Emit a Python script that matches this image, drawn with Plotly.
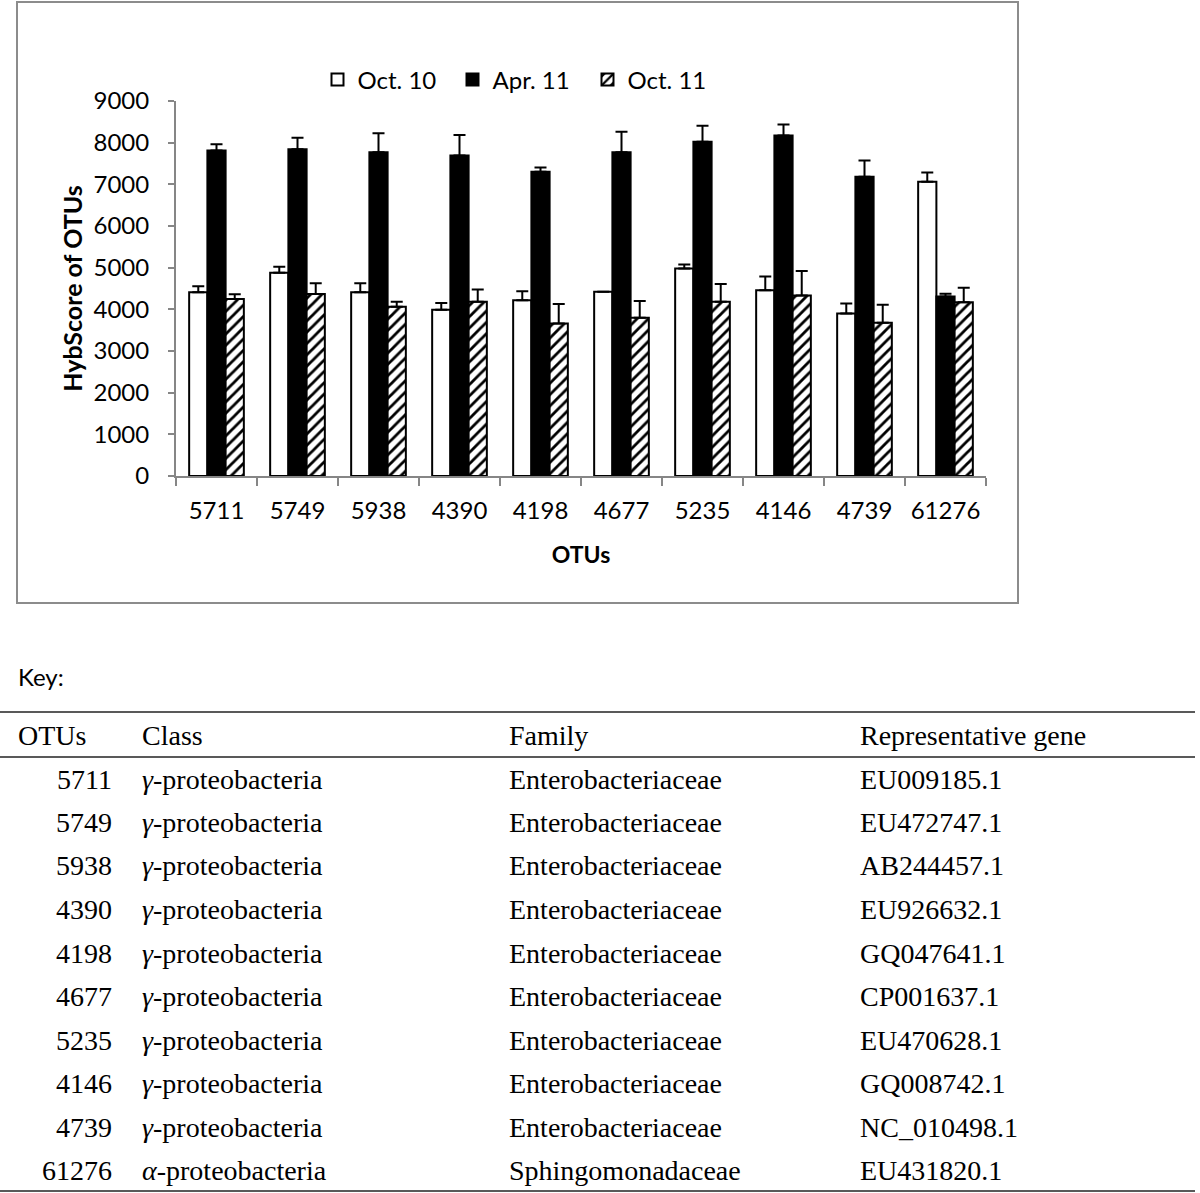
import plotly.graph_objects as go

# ---------------- data ----------------
categories = ["5711", "5749", "5938", "4390", "4198", "4677", "5235", "4146", "4739", "61276"]
series_names = ["Oct. 10", "Apr. 11", "Oct. 11"]
oct10 = [4410, 4880, 4410, 3990, 4220, 4420, 4980, 4460, 3900, 7060]
oct10_err = [145, 145, 215, 160, 215, 0, 95, 330, 240, 225]
apr11 = [7810, 7840, 7770, 7690, 7300, 7770, 8020, 8170, 7180, 4310]
apr11_err = [150, 280, 455, 495, 105, 495, 385, 265, 390, 65]
oct11 = [4250, 4370, 4060, 4180, 3660, 3800, 4180, 4330, 3680, 4170]
oct11_err = [110, 255, 120, 295, 470, 400, 425, 590, 430, 345]
y_ticks = [0, 1000, 2000, 3000, 4000, 5000, 6000, 7000, 8000, 9000]

table_header = ["OTUs", "Class", "Family", "Representative gene"]
table_otus = ["5711", "5749", "5938", "4390", "4198", "4677", "5235", "4146", "4739", "61276"]
table_class = ["<i>γ</i>-proteobacteria"] * 9 + ["<i>α</i>-proteobacteria"]
table_family = ["Enterobacteriaceae"] * 9 + ["Sphingomonadaceae"]
table_gene = ["EU009185.1", "EU472747.1", "AB244457.1", "EU926632.1", "GQ047641.1",
              "CP001637.1", "EU470628.1", "GQ008742.1", "NC_010498.1", "EU431820.1"]

# ---------------- layout helpers ----------------
W, H = 1200, 1193


def px(x):
    return x / W


def py(y):
    return 1 - y / H


SANS = "Lato"
SERIF = "Liberation Serif"
AXIS_GRAY = "#868686"

fig = go.Figure()

err_style = dict(type="data", symmetric=False, color="black", thickness=2, width=6)

fig.add_trace(go.Bar(
    name=series_names[0], x=categories, y=oct10,
    marker=dict(color="white", line=dict(color="black", width=2)),
    error_y=dict(array=oct10_err, arrayminus=[0] * len(oct10), **err_style),
))
fig.add_trace(go.Bar(
    name=series_names[1], x=categories, y=apr11,
    marker=dict(color="black", line=dict(color="black", width=2)),
    error_y=dict(array=apr11_err, arrayminus=[0] * len(apr11), **err_style),
))
fig.add_trace(go.Bar(
    name=series_names[2], x=categories, y=oct11,
    marker=dict(color="white", line=dict(color="black", width=2),
                pattern=dict(shape="/", fgcolor="black", bgcolor="white",
                             size=8, solidity=0.35)),
    error_y=dict(array=oct11_err, arrayminus=[0] * len(oct11), **err_style),
))

fig.update_layout(
    template="none",
    width=W, height=H,
    autosize=False,
    margin=dict(l=0, r=0, t=0, b=0, pad=0),
    paper_bgcolor="white", plot_bgcolor="white",
    font=dict(family=SANS, size=24, color="black"),
    barmode="group", bargap=0.325, bargroupgap=0,
    showlegend=True,
    legend=dict(orientation="h", x=px(520), xanchor="center", y=py(80), yanchor="middle",
                font=dict(family=SANS, size=24, color="black"),
                bgcolor="rgba(0,0,0,0)", borderwidth=0, entrywidth=90, entrywidthmode="pixels",
                itemclick=False, traceorder="normal"),
    xaxis=dict(domain=[px(176), px(986)], type="category", automargin=False,
               showline=True, linecolor=AXIS_GRAY, linewidth=2,
               ticks="outside", tickson="boundaries", ticklen=8, tickcolor=AXIS_GRAY, tickwidth=2,
               ticklabelstandoff=12,
               tickfont=dict(family=SANS, size=24, color="black"),
               showgrid=False, zeroline=False,
               title=dict(text="<b>OTUs</b>", font=dict(family=SANS, size=23, color="black"),
                          standoff=24)),
    yaxis=dict(domain=[py(476), py(101)], range=[0, 9000], tickvals=y_ticks, automargin=False,
               showline=True, linecolor=AXIS_GRAY, linewidth=2,
               ticks="outside", ticklen=6, tickcolor=AXIS_GRAY, tickwidth=2,
               ticklabelstandoff=14,
               tickfont=dict(family=SANS, size=24, color="black"),
               showgrid=False, zeroline=False,
               title=dict(text="<b>HybScore of OTUs</b>", font=dict(family=SANS, size=25, color="black"),
                          standoff=4)),
)

shapes = []
# outer chart frame
shapes.append(dict(type="rect", xref="paper", yref="paper",
                   x0=px(17), x1=px(1018), y0=py(603), y1=py(2),
                   line=dict(color="#8c8c8c", width=2), fillcolor="rgba(0,0,0,0)", layer="below"))
# table rules
for yline in (712, 757, 1191):
    shapes.append(dict(type="line", xref="paper", yref="paper",
                       x0=px(0), x1=px(1195), y0=py(yline), y1=py(yline),
                       line=dict(color="#222222", width=1.5)))

annotations = []
annotations.append(dict(text="Key:", xref="paper", yref="paper", x=px(16), y=py(677),
                        xanchor="left", yanchor="middle", showarrow=False,
                        font=dict(family=SANS, size=24, color="black")))

col_x = [16, 140, 507, 858]
header_y = 735
row_y0, row_step = 779, 43.5
tfont = dict(family=SERIF, size=28, color="black")
for j, htxt in enumerate(table_header):
    annotations.append(dict(text=htxt, xref="paper", yref="paper", x=px(col_x[j]), y=py(header_y),
                            xanchor="left", yanchor="middle", showarrow=False, font=tfont))
for i in range(len(table_otus)):
    yy = py(row_y0 + i * row_step)
    annotations.append(dict(text=table_otus[i], xref="paper", yref="paper", x=px(114), y=yy,
                            xanchor="right", yanchor="middle", showarrow=False, font=tfont))
    for j, col in ((1, table_class), (2, table_family), (3, table_gene)):
        annotations.append(dict(text=col[i], xref="paper", yref="paper", x=px(col_x[j]), y=yy,
                                xanchor="left", yanchor="middle", showarrow=False, font=tfont))

fig.update_layout(shapes=shapes, annotations=annotations)

fig.write_html("out.html", config={"displayModeBar": False},
               post_script="document.body.style.margin='0';document.body.style.overflow='hidden';")
